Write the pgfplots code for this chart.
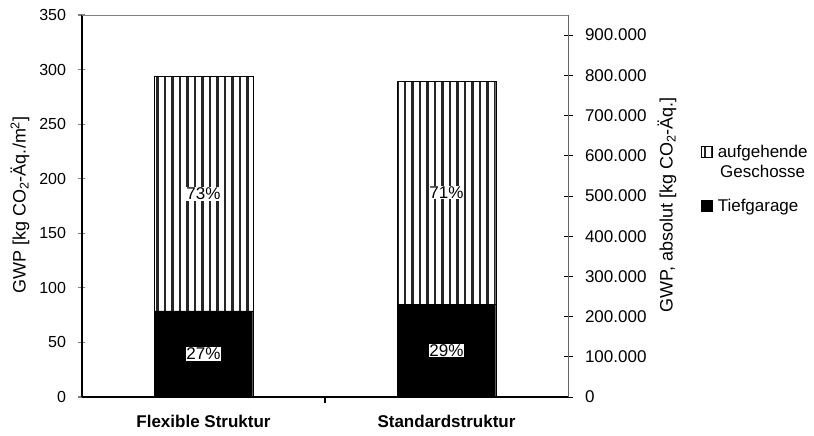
\documentclass[border=0pt]{standalone}
\usepackage{pgfplots}
\pgfplotsset{compat=1.18}
\usepackage{pgfplotstable}
\usepackage{fontspec}
\setmainfont{Liberation Sans}
\usetikzlibrary{patterns.meta}

% GWP per m^2: underground garage and upper storeys
\pgfplotstableread{
x  tief  auf
0  79    214.5
1  85    204.5
}\gwpdata

\newcommand{\tickfont}{\fontsize{16}{19}\selectfont}
\newcommand{\labfont}{\fontsize{17}{20}\selectfont}
\newcommand{\axlabfont}{\fontsize{18}{21}\selectfont}

\tikzset{hatch/.style={pattern={Lines[angle=90, distance=7.5pt, line width=2.4pt]}, pattern color=black!85}}
% legend square raised to the first line of a two-line entry
\pgfplotsset{hatch legend/.style={legend image code/.code={\draw[##1] (0pt,4.5pt) rectangle (11pt,15.5pt);}}}

\begin{document}
\begin{tikzpicture}[x=1pt,y=1pt]
\useasboundingbox (-82,-39) rectangle (732,397);

\begin{axis}[
  width=486pt, height=382pt, scale only axis,
  xmin=-0.5, xmax=1.5, ymin=0, ymax=350,
  ybar stacked, bar width=0.405,
  axis on top,
  axis x line*=bottom, axis y line*=left,
  x axis line style={line width=1.4pt},
  y axis line style={line width=1.4pt},
  ytick={0,50,...,350},
  tick align=center,
  major tick length=7pt,
  ytick style={line width=1.2pt},
  xtick={0,1},
  xticklabels={Flexible Struktur, Standardstruktur},
  xtick style={draw=none},
  xticklabel style={font=\bfseries\labfont, yshift=-11pt},
  yticklabel style={font=\tickfont, xshift=-9pt},
  /pgf/number format/assume math mode=true,
  ylabel={GWP [kg CO\textsubscript{2}-Äq./m\textsuperscript{2}]},
  every axis y label/.style={at={(axis description cs:-0.1276,0.5026)}, rotate=90, anchor=center, font=\axlabfont},
  legend style={draw=none, fill=none, font=\labfont,
    at={(1.274,0.663)}, anchor=north west,
    cells={anchor=west, align=center}, row sep=18pt, column sep=4pt,
    inner sep=0pt, nodes={inner sep=1pt}},
  legend image code/.code={\draw[#1] (0pt,-5.5pt) rectangle (11pt,5.5pt);},
]
\addplot[fill=black, draw=black, forget plot] table[x=x, y=tief] {\gwpdata};
\addplot[draw=black, hatch, forget plot] table[x=x, y=auf] {\gwpdata};

\addlegendimage{draw=black, hatch, hatch legend}
\addlegendentry{aufgehende\\Geschosse}
\addlegendimage{fill=black, draw=black}
\addlegendentry{Tiefgarage}

% centres of the segments, for the share labels
\coordinate (fT) at (axis cs:0,39.5);
\coordinate (fA) at (axis cs:0,186.25);
\coordinate (sT) at (axis cs:1,42.5);
\coordinate (sA) at (axis cs:1,187.25);
% top frame line and category separator tick
\coordinate (tl) at (rel axis cs:0,1);
\coordinate (tr) at (rel axis cs:1,1);
\coordinate (mid) at (axis cs:0.5,0);
\end{axis}

\draw[black!50, line width=0.6pt] (tl) -- (tr);
\draw[line width=1.2pt] (mid) -- ++(0,-6pt);
\foreach \p/\t in {fT/27, fA/73, sT/29, sA/71}
  \node[fill=white, inner sep=0.8pt, font=\labfont] at (\p) {\t\%};

% absolute GWP on the right
\begin{axis}[
  width=486pt, height=382pt, scale only axis,
  xmin=-0.5, xmax=1.5, ymin=0, ymax=950000,
  hide x axis,
  axis y line*=right,
  y axis line style={black!60, line width=0.7pt},
  ytick={0,100000,...,900000},
  scaled y ticks=false,
  tick align=center,
  major tick length=9pt,
  ytick style={black, line width=0.7pt},
  yticklabel style={font=\labfont, xshift=9pt, /pgf/number format/.cd, fixed, 1000 sep={.}},
  /pgf/number format/assume math mode=true,
  ylabel={GWP, absolut [kg CO\textsubscript{2}-Äq.]},
  every axis y label/.style={at={(axis description cs:1.2037,0.5026)}, rotate=90, anchor=center, font=\axlabfont},
]
\end{axis}
\end{tikzpicture}
\end{document}
